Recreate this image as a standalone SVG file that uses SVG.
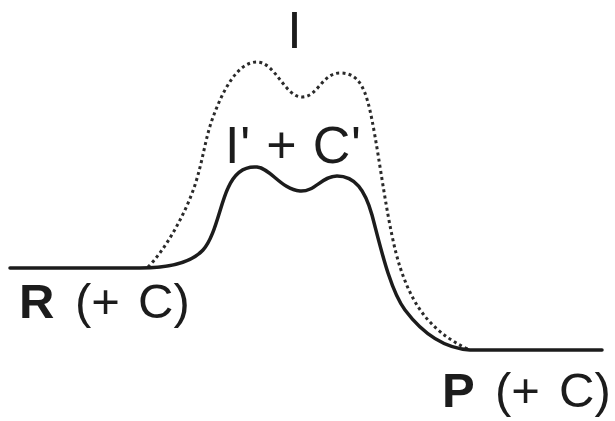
<svg xmlns="http://www.w3.org/2000/svg" width="615" height="421" viewBox="0 0 615 421">
<style>
.lbl{font-family:"Liberation Sans",Arial,sans-serif;fill:#1c1c1c}
.solid{fill:none;stroke:#1c1c1c;stroke-width:3.5;stroke-linecap:round;stroke-linejoin:round}
.dot{fill:none;stroke:#2a2a2a;stroke-width:3;stroke-dasharray:3 3.2}
</style>
<rect width="615" height="421" fill="#ffffff"/>
<g id="curves">
<path class="dot" d="M148,267 C165,250 185,215 195,185 C203,160 205,140 212,120 C222,92 237,62 257,62 C275,62 285,97 302,97 C318,97 322,73 340,73 C360,73 366,90 372,120 C380,160 388,230 400,267 C410,297 425,330 470,350"/>
<path class="solid" d="M10,268 L140,268 C165,268 190,264 203,250 C215,237 220,205 228,188 C235,172 245,166 257,167 C270,168 282,190 300,191 C315,192 322,176 337,176 C355,176 365,190 372,215 C380,245 390,290 405,310 C420,330 440,348 470,350 L602,350"/>
</g>
<g id="label-I"><text class="lbl" x="294.5" y="48" font-size="52" text-anchor="middle">I</text></g>
<g id="label-IC"><text class="lbl" x="225" y="163" font-size="52" textLength="136" lengthAdjust="spacing">I' + C'</text></g>
<g id="label-R"><text class="lbl" y="318" font-size="49"><tspan x="19" font-weight="bold">R</tspan><tspan x="75">(+</tspan><tspan x="138">C)</tspan></text></g>
<g id="label-P"><text class="lbl" y="407" font-size="49"><tspan x="442" font-weight="bold">P</tspan><tspan x="495">(+</tspan><tspan x="559">C)</tspan></text></g>
</svg>
